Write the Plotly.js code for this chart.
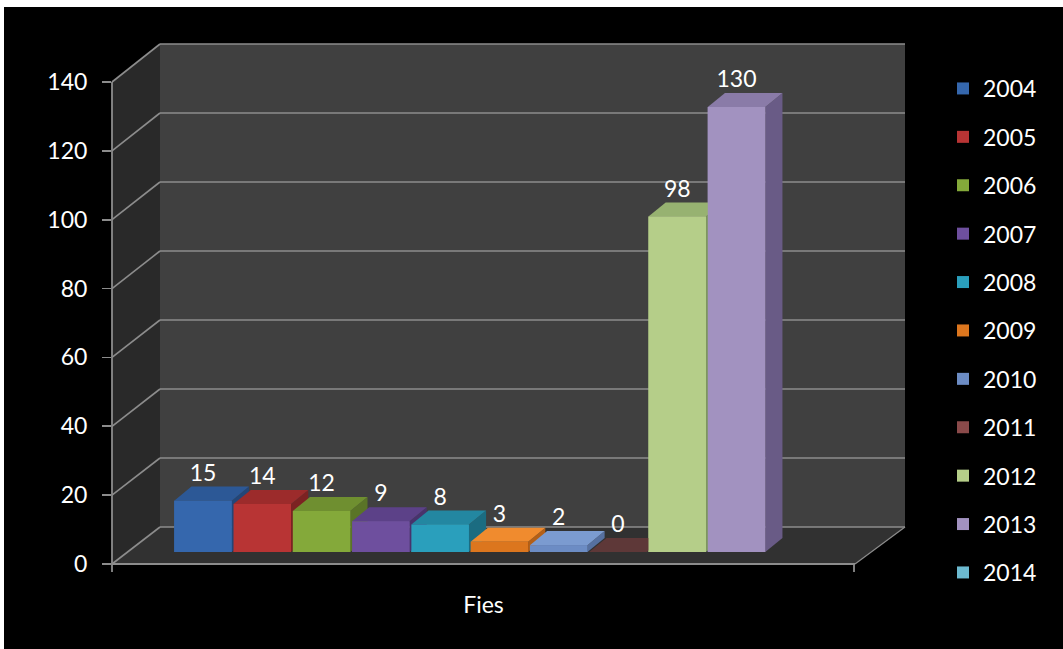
<!DOCTYPE html>
<html>
<head>
<meta charset="utf-8">
<script src="https://cdn.plot.ly/plotly-3.0.1.min.js"></script>
<style>html,body{margin:0;padding:0;background:#000;}#chart{width:1063px;height:649px;}</style>
</head>
<body>
<div id="chart"></div>
<script>
// ---- data ----
const categoryLabel = 'Fies';
const years = ['2004','2005','2006','2007','2008','2009','2010','2011','2012','2013','2014'];
const values = [15, 14, 12, 9, 8, 3, 2, 0, 98, 130, null];
const yTickValues = [0, 20, 40, 60, 80, 100, 120, 140];

// ---- styles ----
const frontColors = ['#3567ad','#b83434','#84a93a','#6e4f9e','#2a9fbc','#dc761e','#6c8cc4','#8a4a4a','#b5ce89','#a292c0','#6cbad0'];
const topColors   = ['#2c5896','#9c2b2b','#6f8f30','#5c4188','#2387a1','#f08b2e','#7b9bd0','#5e3838','#97b271','#8a7ba8','#5aa2b6'];
const sideColors  = ['#234678','#7c2222','#5a7427','#48336c','#1b6c81','#b45f16','#5670a0','#4a2c2c','#7e965e','#695b86','#47889a'];
const FONT = 'Lato, Open Sans, sans-serif';
const FS = 23;

// ---- frame geometry (pixels) ----
const W = 1063, H = 649, L = 112, R = 905, T = 43, B = 564;
const px = v => (v - L) / (R - L);
const py = v => (B - v) / (B - T);
const backLeft = 160, frontRight = 855, backBottom = 527;
const backScale = 3.45, frontScale = 482 / 140;
const lineCol = '#8c8c8c';

const shapes = [];
// white frame edges
shapes.push({type:'rect', xref:'paper', yref:'paper', x0:px(-5), x1:px(1070), y0:py(7), y1:py(-5), fillcolor:'#ffffff', line:{width:0}, layer:'below'});
shapes.push({type:'rect', xref:'paper', yref:'paper', x0:px(-5), x1:px(4), y0:py(655), y1:py(-5), fillcolor:'#ffffff', line:{width:0}, layer:'below'});
// walls and floor
shapes.push({type:'path', xref:'paper', yref:'paper', layer:'below', line:{width:0}, fillcolor:'#292929',
  path:`M${px(L)},${py(B-140*frontScale)} L${px(backLeft)},${py(backBottom-140*backScale)} L${px(backLeft)},${py(backBottom)} L${px(L)},${py(B)} Z`});
shapes.push({type:'rect', xref:'paper', yref:'paper', layer:'below', line:{width:0}, fillcolor:'#404040',
  x0:px(backLeft), x1:px(R), y0:py(backBottom), y1:py(backBottom-140*backScale)});
shapes.push({type:'path', xref:'paper', yref:'paper', layer:'below', line:{width:0}, fillcolor:'#313131',
  path:`M${px(L)},${py(B)} L${px(backLeft)},${py(backBottom)} L${px(R)},${py(backBottom)} L${px(frontRight)},${py(B)} Z`});
// gridlines on back wall and side wall
yTickValues.forEach(v => {
  const yb = backBottom - v*backScale, yf = B - v*frontScale;
  shapes.push({type:'line', xref:'paper', yref:'paper', layer:'below', x0:px(backLeft), x1:px(R), y0:py(yb), y1:py(yb), line:{color:lineCol, width:1.6}});
  shapes.push({type:'line', xref:'paper', yref:'paper', layer:'below', x0:px(L), x1:px(backLeft), y0:py(yf), y1:py(yb), line:{color:lineCol, width:1.6}});
});
// front axis lines
shapes.push({type:'line', xref:'paper', yref:'paper', layer:'below', x0:px(L), x1:px(L), y0:py(B-140*frontScale), y1:py(B+8), line:{color:lineCol, width:1.8}});
shapes.push({type:'line', xref:'paper', yref:'paper', layer:'below', x0:px(L), x1:px(frontRight), y0:py(B), y1:py(B), line:{color:lineCol, width:1.8}});
shapes.push({type:'line', xref:'paper', yref:'paper', layer:'below', x0:px(frontRight-1), x1:px(frontRight-1), y0:py(B), y1:py(B+8), line:{color:lineCol, width:1.8}});
shapes.push({type:'line', xref:'paper', yref:'paper', layer:'below', x0:px(frontRight), x1:px(R), y0:py(B), y1:py(backBottom), line:{color:lineCol, width:1.2}});

// ---- traces ----
const barW = 0.97, dX = 0.29, dY = 4.1;
const traces = [];
// bar traces (front faces + legend)
years.forEach((yr, k) => {
  traces.push({type:'bar', x:[k], y:[values[k]], width:barW, name:yr, legendgroup:yr,
    marker:{color:frontColors[k], line:{width:0}}, hoverinfo:'name+y'});
});
// 3D solids drawn in depth order
years.forEach((yr, k) => {
  const v = values[k];
  if (v === null) return;
  const a = k - barW/2, b = k + barW/2;
  traces.push({type:'scatter', mode:'lines', x:[b, b+dX, b+dX, b, b], y:[0, dY, v+dY, v, 0], fill:'toself',
    fillcolor:sideColors[k], line:{width:0, color:sideColors[k]}, showlegend:false, hoverinfo:'skip', legendgroup:yr});
  traces.push({type:'scatter', mode:'lines', x:[a, b, b+dX, a+dX, a], y:[v, v, v+dY, v+dY, v], fill:'toself',
    fillcolor:topColors[k], line:{width:0, color:topColors[k]}, showlegend:false, hoverinfo:'skip', legendgroup:yr});
  if (v > 0) {
    traces.push({type:'scatter', mode:'lines', x:[a, b, b, a, a], y:[0, 0, v, v, 0], fill:'toself',
      fillcolor:frontColors[k], line:{width:0, color:frontColors[k]}, showlegend:false, hoverinfo:'skip', legendgroup:yr});
  }
});
// data labels
const lx = [], ly = [], lt = [];
values.forEach((v, k) => { if (v !== null) { lx.push(k); ly.push(v + dY); lt.push(String(v)); } });
traces.push({type:'scatter', mode:'text', x:lx, y:ly, text:lt, textposition:'top center',
  textfont:{color:'#ffffff', size:FS, family:FONT}, showlegend:false, hoverinfo:'skip', cliponaxis:false});

const layout = {
  width: W, height: H,
  margin: {l:L, r:W-R, t:T, b:H-B},
  paper_bgcolor:'#000000', plot_bgcolor:'rgba(0,0,0,0)',
  font:{family:FONT, color:'#ffffff', size:FS},
  barmode:'overlay',
  showlegend:true,
  legend:{x:px(943), xanchor:'left', y:py(67), yanchor:'top', font:{size:FS, color:'#ffffff', family:FONT},
          tracegroupgap:15.5, bgcolor:'rgba(0,0,0,0)', traceorder:'grouped', maxheight:1},
  xaxis:{range:[(L-203)/59.28, (frontRight-203)/59.28], domain:[0, px(frontRight)], showgrid:false, zeroline:false,
         showticklabels:false, ticks:'', showline:false, fixedrange:true,
         title:{text:categoryLabel, font:{size:FS, color:'#ffffff', family:FONT}, standoff:32}},
  yaxis:{range:[-(B-552)/(445/130), (552-T)/(445/130)], visible:false, showgrid:false, zeroline:false, fixedrange:true},
  yaxis2:{overlaying:'y', side:'left', anchor:'x', range:[0, (B-T)/frontScale], tickvals:yTickValues,
          showgrid:false, zeroline:false, showline:false, ticks:'outside', ticklen:9, tickwidth:1.6, tickcolor:lineCol,
          tickfont:{size:FS, color:'#ffffff', family:FONT}, ticklabelstandoff:10, fixedrange:true},
  shapes: shapes
};
// an invisible trace to activate yaxis2
traces.push({type:'scatter', x:[0], y:[0], yaxis:'y2', mode:'markers', marker:{opacity:0}, showlegend:false, hoverinfo:'skip'});

Plotly.newPlot('chart', traces, layout, {displayModeBar:false, staticPlot:true});
</script>
</body>
</html>
